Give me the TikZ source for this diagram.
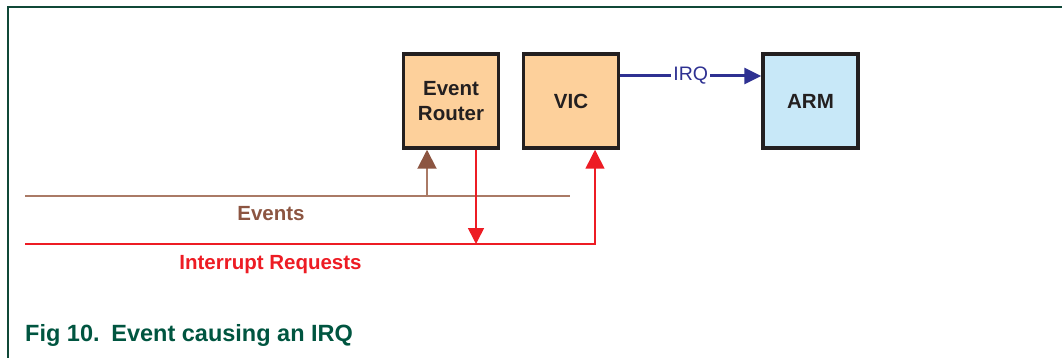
\documentclass[tikz,border=0pt]{standalone}
\usepackage{fontspec}
\setmainfont{Liberation Sans}
\usetikzlibrary{arrows.meta}
\definecolor{peach}{RGB}{253,208,155}
\definecolor{lblue}{RGB}{200,232,248}
\definecolor{boxline}{RGB}{35,31,32}
\definecolor{irqblue}{RGB}{46,49,146}
\definecolor{ired}{RGB}{237,28,36}
\definecolor{ebrown}{RGB}{140,85,65}
\definecolor{ebrownl}{RGB}{170,122,102}
\definecolor{capgreen}{RGB}{0,85,64}
\definecolor{framegreen}{RGB}{16,72,56}
\tikzset{
  block/.style={draw=boxline, line width=3.5pt, minimum width=95pt, minimum height=94pt, inner sep=0pt,
    align=center, font=\fontsize{20.5}{25}\selectfont\bfseries, text=boxline},
  lbl/.style={font=\fontsize{20.5}{24}\selectfont\bfseries}
}
\begin{document}
\begin{tikzpicture}[x=1pt,y=-1pt]
\useasboundingbox (0,0) rectangle (1062,358);
% frame
\draw[framegreen, line width=2pt] (8,358) -- (8,7) -- (1062,7);
% blocks
\node[block, fill=peach] (er) at (451,101) {Event\\Router};
\node[block, fill=peach] (vic) at (571,101) {VIC};
\node[block, fill=lblue] (arm) at (810.5,101) {ARM};
% IRQ connector
\draw[irqblue, line width=3pt, -{Triangle[length=17pt,width=16pt]}] (vic.east |- 0,76) -- node[fill=white, inner sep=2pt, text=irqblue, font=\fontsize{19.5}{23}\selectfont] (irqlbl) {IRQ} (arm.west |- 0,76);
% events bus
\coordinate (ev0) at (25,196);
\coordinate (ev1) at (570,196);
\coordinate (evtap) at (427,196);
\draw[ebrownl, line width=2pt] (ev0) -- (ev1);
\draw[ebrownl, line width=2pt, -{Triangle[length=19pt,width=19pt,color=ebrown]}] (evtap) -- (evtap |- er.south);
\node[lbl, text=ebrown] (evlbl) at (271,214) {Events};
% interrupt request bus
\coordinate (ir0) at (25,244);
\coordinate (irdrop) at (476,244);
\coordinate (ircorner) at (595,244);
\draw[ired, line width=1.6pt, -{Triangle[length=16pt,width=16pt]}] (irdrop |- er.south) -- (irdrop);
\draw[ired, line width=1.6pt, -{Triangle[length=19pt,width=19pt]}] (ir0) -- (ircorner) -- (ircorner |- vic.south);
\node[lbl, text=ired] (irlbl) at (270.5,264.5) {Interrupt Requests};
% caption
\node[anchor=west, text=capgreen, font=\fontsize{23.5}{28}\selectfont\bfseries, inner sep=0pt] (cap) at (25,335) {Fig 10.\hspace{0.5em}Event causing an IRQ};
\end{tikzpicture}
\end{document}
